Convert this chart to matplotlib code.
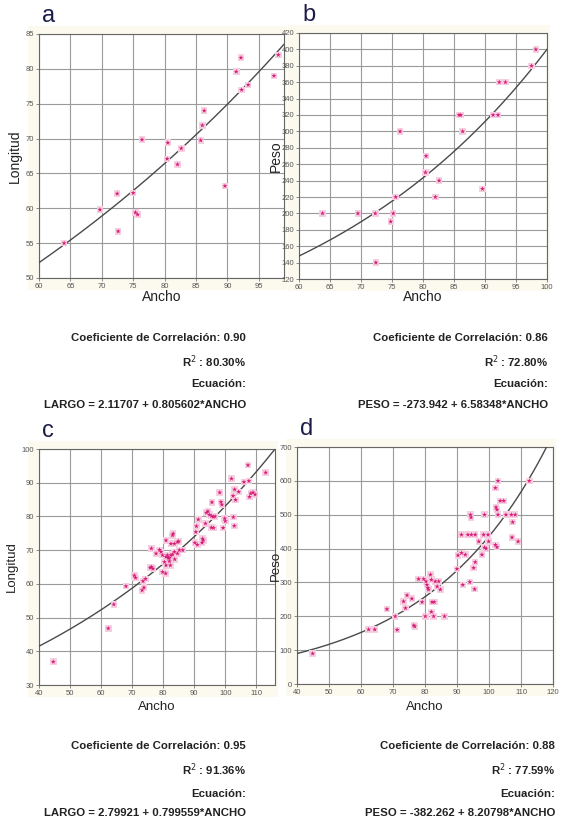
import numpy as np
import matplotlib
matplotlib.use("Agg")
import matplotlib.pyplot as plt
from matplotlib.patches import Rectangle

plt.rcParams['font.family'] = ['Liberation Sans', 'DejaVu Sans']

# ---- datos ----
ancho_a = [64.0, 69.7, 72.45, 72.6, 75.0, 75.35, 75.7, 76.4, 80.4, 80.5, 82.05,
           82.65, 85.75, 86.0, 86.3, 89.6, 91.4, 92.15, 92.25, 93.3, 97.4, 98.1]
longitud_a = [55.0, 59.8, 62.1, 56.7, 62.2, 59.4, 59.1, 69.85, 67.1, 69.4, 66.3,
              68.6, 69.75, 71.9, 74.0, 63.2, 79.6, 81.6, 77.0, 77.7, 79.0, 82.0]

ancho_b = [63.8, 69.5, 72.3, 72.4, 74.8, 75.2, 75.6, 76.3, 80.4, 80.5, 82.0,
           82.6, 85.8, 86.1, 86.4, 89.6, 91.3, 92.1, 92.3, 93.3, 97.5, 98.2]
peso_b = [200, 200, 200, 140, 190, 200, 220, 300, 250, 270, 220,
          240, 320, 320, 300, 230, 320, 320, 360, 360, 380, 400]

ancho_c = [44.6, 62.3, 64.1, 68.0, 70.7, 71.1, 73.2, 73.8, 73.5, 74.3, 75.8, 76.2,
           76.7, 76.2, 77.7, 78.8, 79.3, 79.8, 79.8, 80.4, 80.9, 80.9, 80.9, 80.8,
           81.4, 81.6, 82.0, 82.0, 82.3, 82.5, 82.5, 83.0, 83.0, 83.2, 83.6, 83.6,
           83.7, 84.6, 84.6, 85.0, 85.2, 86.3, 90.2, 90.5, 90.7, 91.0, 91.3, 92.5,
           92.9, 92.7, 93.6, 93.9, 94.4, 94.9, 95.6, 95.5, 95.7, 96.1, 96.7, 96.2,
           98.2, 98.6, 98.9, 99.3, 99.8, 100.0, 102.0, 102.5, 102.6, 102.9, 103.0,
           103.3, 104.3, 106.0, 107.3, 107.6, 107.8, 108.2, 108.9, 109.6, 113.0]
longitud_c = [36.9, 46.8, 53.9, 59.3, 62.5, 61.8, 58.1, 58.9, 60.8, 61.5, 64.8, 65.0,
              64.5, 70.5, 69.0, 70.1, 69.5, 68.5, 63.5, 66.5, 68.0, 65.5, 72.9, 63.1,
              68.5, 67.7, 67.7, 66.7, 65.5, 68.5, 71.9, 68.7, 74.4, 74.9, 69.5, 71.9,
              67.3, 69.0, 72.4, 72.6, 70.0, 70.0, 72.2, 75.4, 77.1, 71.6, 79.1, 72.2,
              72.9, 73.4, 77.9, 81.1, 81.5, 80.5, 80.1, 76.7, 84.2, 79.9, 80.0, 76.6,
              87.1, 84.3, 83.5, 76.6, 79.4, 78.6, 91.2, 86.1, 79.8, 77.2, 88.0,
              84.9, 87.3, 90.2, 95.2, 90.5, 85.8, 86.8, 87.1, 86.5, 93.0]

ancho_d = [44.9, 62.4, 64.3, 68.1, 70.7, 71.3, 73.3, 73.9, 74.4, 75.9, 76.8, 76.5,
           78.0, 79.1, 79.6, 80.1, 80.3, 80.6, 80.9, 81.1, 81.7, 82.0, 82.0, 82.2,
           82.7, 82.9, 83.2, 83.8, 84.3, 84.8, 86.1, 90.0, 90.3, 91.4, 91.4, 91.8,
           92.6, 93.4, 94.0, 94.2, 94.4, 94.5, 95.2, 95.5, 95.7, 95.7, 96.8, 97.8,
           98.3, 98.6, 98.6, 99.1, 99.7, 99.9, 102.0, 102.0, 102.2, 102.5, 102.5,
           102.8, 102.8, 103.5, 104.6, 105.3, 107.0, 107.2, 107.4, 108.2, 109.1, 112.6]
peso_d = [90, 161, 161, 221, 200, 160, 244, 224, 262, 252, 170, 173,
          310, 242, 310, 200, 303, 293, 284, 279, 323, 308, 213, 242,
          200, 242, 303, 288, 303, 279, 200, 340, 380, 387, 441, 293,
          382, 441, 301, 500, 492, 441, 343, 280, 360, 441, 421, 382,
          441, 403, 500, 400, 441, 421, 411, 579, 522, 404, 515,
          500, 600, 541, 541, 500, 500, 433, 478, 500, 421, 600]

# curva ajustada: y = y0 * exp(k * (x - x0))
curva_a = (60, 52.2, 0.01205)
curva_b = (60, 148, 0.02486)
curva_c = (40, 41.5, 0.01157)
curva_d = (40, 90, 0.0263)

textos_a = ["Coeficiente de Correlación: 0.90", "R$^2$ : 80.30%", "Ecuación:",
            "LARGO = 2.11707 + 0.805602*ANCHO"]
textos_b = ["Coeficiente de Correlación: 0.86", "R$^2$ : 72.80%", "Ecuación:",
            "PESO = -273.942 + 6.58348*ANCHO"]
textos_c = ["Coeficiente de Correlación: 0.95", "R$^2$ : 91.36%", "Ecuación:",
            "LARGO = 2.79921 + 0.799559*ANCHO"]
textos_d = ["Coeficiente de Correlación: 0.88", "R$^2$ : 77.59%", "Ecuación:",
            "PESO = -382.262 + 8.20798*ANCHO"]

W, H = 565, 822
fig = plt.figure(figsize=(W / 100, H / 100), dpi=100)
fig.patch.set_facecolor("white")


def px_axes(l, t, r, b):
    return fig.add_axes([l / W, 1 - b / H, (r - l) / W, (b - t) / H])


def panel(box, x, y, curva, xlim, ylim, xt, yt, letra, ylab, ylab_x, xlab_y, lab_size):
    l, t, r, b = box
    fig.patches.append(Rectangle(((l - 11) / W, 1 - (b + 12) / H), (r - l + 14) / W,
                                 (b - t + 20) / H, transform=fig.transFigure,
                                 facecolor="#fcf9ee", edgecolor="none", zorder=-5))
    ax = px_axes(l, t, r, b)
    ax.set_zorder(2)
    ax.set_facecolor("white")
    ax.set_xlim(*xlim)
    ax.set_ylim(*ylim)
    ax.set_xticks(xt)
    ax.set_yticks(yt)
    ax.grid(True, color="#9a9a9a", lw=0.8)
    ax.set_axisbelow(True)
    ax.tick_params(labelsize=5.5, labelcolor="#555555", length=2, width=0.6,
                   color="#777777", pad=1.5)
    for s in ax.spines.values():
        s.set_color("#666666")
        s.set_linewidth(0.8)
    x0, y0, k = curva
    xs = np.linspace(xlim[0], xlim[1], 200)
    ax.plot(xs, y0 * np.exp(k * (xs - x0)), color="#4a4a4a", lw=1.0, zorder=3)
    ax.scatter(x, y, marker="s", s=22, color="#f6cfe1", edgecolor="none", zorder=4)
    ax.scatter(x, y, marker="*", s=14, color="#d81b78", edgecolor="none", zorder=5)
    fig.text((l + 3) / W, 1 - (t - 18) / H, letra, fontsize=17, color="#1c1c4a",
             ha="left", va="center")
    fig.text(ylab_x / W, 1 - ((t + b) / 2) / H, ylab, rotation=90, fontsize=lab_size,
             ha="center", va="center", color="#222222", zorder=3)
    fig.text(((l + r) / 2) / W, 1 - xlab_y / H, "Ancho", fontsize=lab_size,
             ha="center", va="center", color="#222222")
    return ax


def textos(lineas, right, ys):
    for s, yy in zip(lineas, ys):
        fig.text(right / W, 1 - yy / H, s, fontsize=8.2, fontweight="bold",
                 ha="right", va="center", color="#222222")


panel((39, 34, 284, 278), ancho_a, longitud_a, curva_a, (60, 99), (50, 85),
      range(60, 100, 5), range(50, 86, 5), "a", "Longitud", 15, 297, 10)
panel((299, 33, 547, 279), ancho_b, peso_b, curva_b, (60, 100), (120, 420),
      range(60, 101, 5), range(120, 421, 20), "b", "Peso", 276, 297, 10)
panel((39, 449, 275, 685), ancho_c, longitud_c, curva_c, (40, 116), (30, 100),
      range(40, 111, 10), range(30, 101, 10), "c", "Longitud", 12, 707, 9.5)
panel((297, 447, 553, 684), ancho_d, peso_d, curva_d, (40, 120), (0, 700),
      range(40, 121, 10), range(0, 701, 100), "d", "Peso", 276, 707, 9.5)

textos(textos_a, 246, [338, 362, 384, 405])
textos(textos_b, 548, [338, 362, 384, 405])
textos(textos_c, 246, [746, 770, 794, 813])
textos(textos_d, 555, [746, 770, 794, 813])

fig.savefig("out.png", dpi=100)
